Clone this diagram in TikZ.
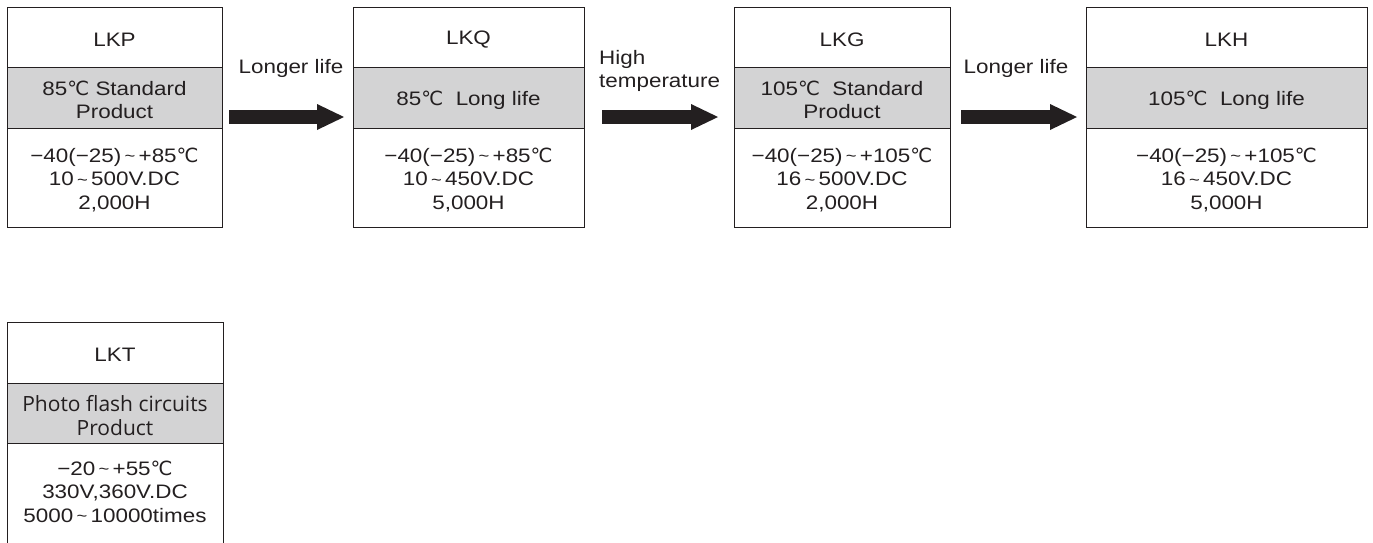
\documentclass[tikz,border=0pt]{standalone}
\usepackage{fontspec}
\setmainfont{Liberation Sans}[FakeStretch=1.15]
\newfontfamily\dejavu{DejaVu Sans}
\newfontfamily\opensans{Open Sans}
\definecolor{ink}{HTML}{231F20}
\definecolor{band}{HTML}{D3D3D4}
\newcommand\dC{{\dejavu ℃}}
\newcommand\tld{\,{\fontsize{16}{16}\selectfont\raisebox{0.5pt}{\textasciitilde}}\,}
\begin{document}
\begin{tikzpicture}[x=1pt,y=-1pt,
  cell/.style={draw=ink,line width=1pt,inner sep=0pt,outer sep=0pt,anchor=north west},
  gcell/.style={cell,fill=band},
  txt/.style={align=center,inner sep=0pt,text=ink,yshift=-2.5pt,font=\fontsize{19.5}{23.5}\selectfont},
  lbl/.style={inner sep=0pt,text=ink,font=\fontsize{19.5}{23.5}\selectfont},
  shaft/.style={draw=ink,line width=14pt,shorten >=27pt},
  head/.style={fill=ink}]
\useasboundingbox (0,0) rectangle (1373,542);
% LKP
\node[cell,minimum width=215,minimum height=60] (p-h) at (7,7) {};
\node[gcell,minimum width=215,minimum height=61] (p-g) at (7,67) {};
\node[cell,minimum width=215,minimum height=99] (p-b) at (7,128) {};
\node[txt] (p-ht) at (p-h.center) {LKP};
\node[txt] (p-gt) at (p-g.center) {85\dC{} Standard\\Product};
\node[txt] (p-bt) at (p-b.center) {−40(−25)\tld+85\dC\\10\tld500V.DC\\2,000H};
% LKQ
\node[cell,minimum width=231,minimum height=60] (q-h) at (353,7) {};
\node[gcell,minimum width=231,minimum height=61] (q-g) at (353,67) {};
\node[cell,minimum width=231,minimum height=99] (q-b) at (353,128) {};
\node[txt] (q-ht) at (q-h.center) {LKQ};
\node[txt] (q-gt) at (q-g.center) {85\dC\ \ Long life};
\node[txt] (q-bt) at (q-b.center) {−40(−25)\tld+85\dC\\10\tld450V.DC\\5,000H};
% LKG
\node[cell,minimum width=216,minimum height=60] (g-h) at (734,7) {};
\node[gcell,minimum width=216,minimum height=61] (g-g) at (734,67) {};
\node[cell,minimum width=216,minimum height=99] (g-b) at (734,128) {};
\node[txt] (g-ht) at (g-h.center) {LKG};
\node[txt] (g-gt) at (g-g.center) {105\dC\ \ Standard\\Product};
\node[txt] (g-bt) at (g-b.center) {−40(−25)\tld+105\dC\\16\tld500V.DC\\2,000H};
% LKH
\node[cell,minimum width=281,minimum height=60] (h-h) at (1086,7) {};
\node[gcell,minimum width=281,minimum height=61] (h-g) at (1086,67) {};
\node[cell,minimum width=281,minimum height=99] (h-b) at (1086,128) {};
\node[txt] (h-ht) at (h-h.center) {LKH};
\node[txt] (h-gt) at (h-g.center) {105\dC\ \ Long life};
\node[txt] (h-bt) at (h-b.center) {−40(−25)\tld+105\dC\\16\tld450V.DC\\5,000H};
% LKT
\node[cell,minimum width=216,minimum height=61] (t-h) at (7,322) {};
\node[gcell,minimum width=216,minimum height=60] (t-g) at (7,383) {};
\node[inner sep=0pt,outer sep=0pt,anchor=north west,minimum width=216,minimum height=104] (t-b) at (7,443) {};
\draw[ink,line width=1pt] (t-b.north west) -- (t-b.south west);
\draw[ink,line width=1pt] (t-b.north east) -- (t-b.south east);
\node[txt] (t-ht) at (t-h.center) {LKT};
\node[txt,font=\opensans\fontsize{21}{23.5}\selectfont] (t-gt) at (t-g.center) {Photo flash circuits\\Product};
\node[txt,anchor=north] (t-bt) at ([yshift=-15pt]t-b.north) {−20\tld+55\dC\\330V,360V.DC\\5000\tld10000times};
% arrows
\coordinate (a1s) at ([shift={(7,-11)}]p-g.south east);
\coordinate (a1e) at ([shift={(-9,-11)}]q-g.south west);
\coordinate (a2s) at ([shift={(18,-11)}]q-g.south east);
\coordinate (a2e) at ([shift={(-16,-11)}]g-g.south west);
\coordinate (a3s) at ([shift={(11,-11)}]g-g.south east);
\coordinate (a3e) at ([shift={(-9,-11)}]h-g.south west);
\foreach \s/\e in {a1s/a1e,a2s/a2e,a3s/a3e}{
  \draw[shaft] (\s) -- (\e);
  \fill[head] (\e) -- ++(-27,-13) -- ++(0,26) -- cycle;
}
% labels
\node[lbl,anchor=base] (l1) at (291,73) {Longer life};
\node[lbl,anchor=west,align=left] (l2) at (599,71) {High\\temperature};
\node[lbl,anchor=base] (l3) at (1016,73) {Longer life};
\end{tikzpicture}
\end{document}
